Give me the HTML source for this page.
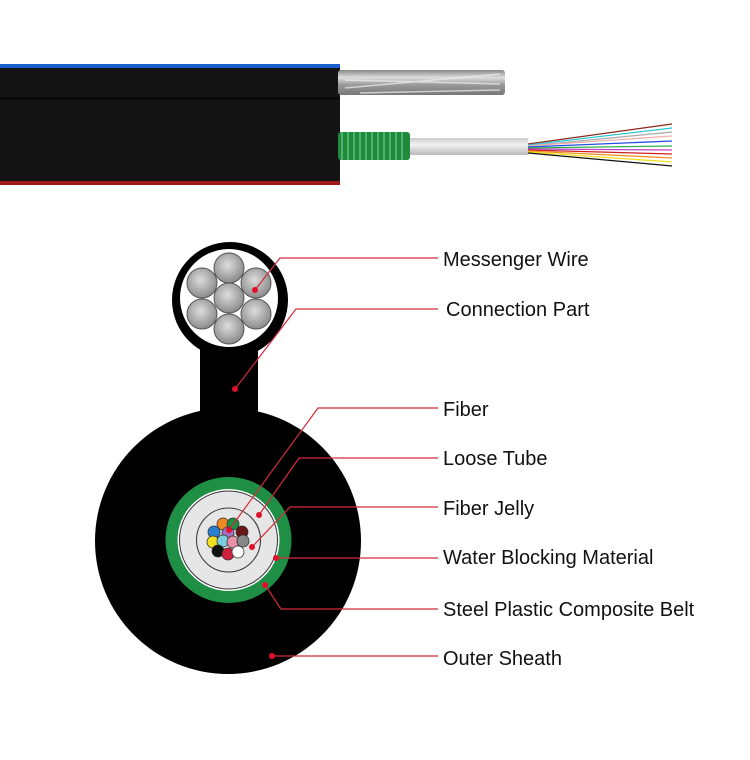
<!DOCTYPE html>
<html><head><meta charset="utf-8"><style>
html,body{margin:0;padding:0;background:#fff;width:750px;height:760px;overflow:hidden}
svg text{font-family:"Liberation Sans",sans-serif;font-size:20px;fill:#111}
</style></head><body>
<svg width="750" height="760" viewBox="0 0 750 760" xmlns="http://www.w3.org/2000/svg">
<defs>
<linearGradient id="sil" x1="0" y1="0" x2="0" y2="1">
<stop offset="0" stop-color="#888"/><stop offset="0.3" stop-color="#ddd"/><stop offset="0.6" stop-color="#999"/><stop offset="1" stop-color="#777"/></linearGradient>
<radialGradient id="wire" cx="0.45" cy="0.4" r="0.6"><stop offset="0" stop-color="#ddd"/><stop offset="1" stop-color="#8a8a8a"/></radialGradient>
<linearGradient id="tube" x1="0" y1="0" x2="0" y2="1"><stop offset="0" stop-color="#ccc"/><stop offset="0.4" stop-color="#f2f2f2"/><stop offset="1" stop-color="#bbb"/></linearGradient>
</defs>
<rect x="0" y="65" width="340" height="120" fill="#141414"/>
<rect x="0" y="64" width="340" height="4" fill="#1a5fd0"/>
<rect x="0" y="181" width="340" height="4" fill="#a01818"/>
<rect x="0" y="97" width="340" height="3" fill="#0a0a0a"/>
<rect x="338" y="70" width="167" height="25" rx="3" fill="url(#sil)"/>
<g stroke="#eee" stroke-width="1.5" opacity="0.7">
<line x1="345" y1="88" x2="500" y2="74"/><line x1="345" y1="80" x2="500" y2="84"/><line x1="360" y1="93" x2="500" y2="90"/></g>
<rect x="338" y="132" width="72" height="28" rx="3" fill="#1f8a3c"/>
<g stroke="#6fd08a" stroke-width="1.2">
<line x1="342" y1="132" x2="342" y2="160"/><line x1="348" y1="132" x2="348" y2="160"/><line x1="354" y1="132" x2="354" y2="160"/><line x1="360" y1="132" x2="360" y2="160"/><line x1="366" y1="132" x2="366" y2="160"/><line x1="372" y1="132" x2="372" y2="160"/><line x1="378" y1="132" x2="378" y2="160"/><line x1="384" y1="132" x2="384" y2="160"/><line x1="390" y1="132" x2="390" y2="160"/><line x1="396" y1="132" x2="396" y2="160"/><line x1="402" y1="132" x2="402" y2="160"/></g>
<rect x="410" y="138" width="118" height="17" fill="url(#tube)"/>
<g stroke-width="1.3">
<line x1="528" y1="144" x2="672" y2="124" stroke="#8b2a1a"/>
<line x1="528" y1="145" x2="672" y2="128" stroke="#2cc8d8"/>
<line x1="528" y1="146" x2="672" y2="132" stroke="#aaa"/>
<line x1="528" y1="146" x2="672" y2="136" stroke="#f0b0b0"/>
<line x1="528" y1="147" x2="672" y2="141" stroke="#2050e0"/>
<line x1="528" y1="148" x2="672" y2="146" stroke="#30b050"/>
<line x1="528" y1="149" x2="672" y2="150" stroke="#c040d0"/>
<line x1="528" y1="150" x2="672" y2="154" stroke="#d02020"/>
<line x1="528" y1="151" x2="672" y2="158" stroke="#f09020"/>
<line x1="528" y1="152" x2="672" y2="162" stroke="#f0e020"/>
<line x1="528" y1="153" x2="672" y2="166" stroke="#111"/>
</g>
<rect x="200" y="340" width="58" height="80" fill="#000"/>
<circle cx="230" cy="300" r="58" fill="#000"/>
<circle cx="228" cy="541" r="133" fill="#000"/>
<circle cx="229" cy="298" r="49" fill="#fff"/>
<g fill="url(#wire)" stroke="#555" stroke-width="1">
<circle cx="229" cy="268" r="15"/><circle cx="202" cy="283" r="15"/><circle cx="256" cy="283" r="15"/>
<circle cx="229" cy="298" r="15"/><circle cx="202" cy="314" r="15"/><circle cx="256" cy="314" r="15"/><circle cx="229" cy="329" r="15"/></g>
<circle cx="228.5" cy="540" r="63" fill="#1f8f45"/>
<circle cx="228.5" cy="540" r="51" fill="#fff"/>
<circle cx="228.5" cy="540" r="49" fill="#e6e6e6" stroke="#333" stroke-width="1"/>
<circle cx="228.5" cy="540" r="32" fill="#e6e6e6" stroke="#333" stroke-width="1"/>
<g stroke="#333" stroke-width="0.8">
<circle cx="223" cy="524" r="6" fill="#f08a20"/><circle cx="233" cy="524" r="6" fill="#1f8f45"/>
<circle cx="214" cy="532" r="6" fill="#2a7fd0"/><circle cx="228" cy="533" r="6" fill="#a070c0"/><circle cx="242" cy="532" r="6" fill="#6a1515"/>
<circle cx="213" cy="542" r="6" fill="#f0e020"/><circle cx="223" cy="541" r="6" fill="#7ccde0"/><circle cx="233" cy="542" r="6" fill="#e890a8"/><circle cx="243" cy="541" r="6" fill="#888"/>
<circle cx="218" cy="551" r="6" fill="#111"/><circle cx="228" cy="554" r="6" fill="#d02040"/><circle cx="238" cy="552" r="6" fill="#fff"/>
</g>
<g stroke="#d42a3a" stroke-width="1.2" fill="none">
<polyline points="255,290 280,258 438,258"/>
<polyline points="235,389 296,309 438,309"/>
<polyline points="229,530 318,408 438,408"/>
<polyline points="259,515 299,458 438,458"/>
<polyline points="252,547 290,507 438,507"/>
<polyline points="276,558 438,558"/>
<polyline points="265,585 281,609 438,609"/>
<polyline points="272,656 438,656"/>
</g>
<g fill="#e0102a">
<circle cx="255" cy="290" r="3"/><circle cx="235" cy="389" r="3"/><circle cx="229" cy="530" r="3"/>
<circle cx="259" cy="515" r="3"/><circle cx="252" cy="547" r="3"/><circle cx="276" cy="558" r="3"/>
<circle cx="265" cy="585" r="3"/><circle cx="272" cy="656" r="3"/></g>
<text x="443" y="266">Messenger Wire</text>
<text x="446" y="316">Connection Part</text>
<text x="443" y="416">Fiber</text>
<text x="443" y="465">Loose Tube</text>
<text x="443" y="515">Fiber Jelly</text>
<text x="443" y="564">Water Blocking Material</text>
<text x="443" y="616">Steel Plastic Composite Belt</text>
<text x="443" y="665">Outer Sheath</text>
</svg>
</body></html>
